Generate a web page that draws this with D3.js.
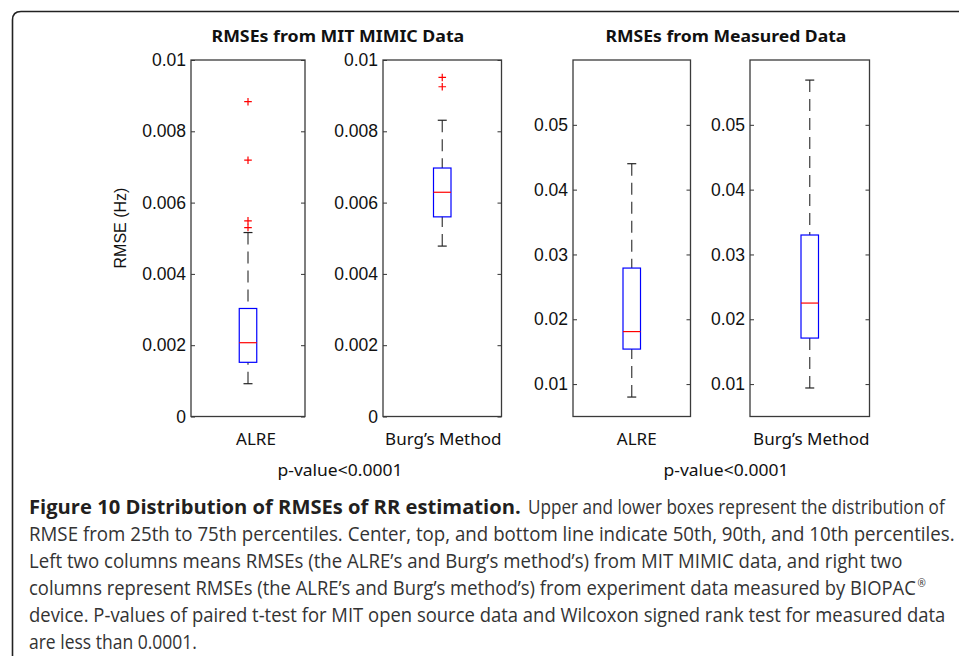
<!DOCTYPE html>
<html>
<head>
<meta charset="utf-8">
<script src="https://cdn.jsdelivr.net/npm/d3@7"></script>
<style>
  html, body { margin: 0; padding: 0; background: #fff; }
  svg { display: block; }
</style>
</head>
<body>
<script>
// ---------------- DATA ----------------
const categories = ["ALRE", "Burg\u2019s Method"];
const groupTitles = ["RMSEs from MIT MIMIC Data", "RMSEs from Measured Data"];
const pValueLabels = ["p-value<0.0001", "p-value<0.0001"];
const yAxisLabel = "RMSE (Hz)";

// MIMIC data (Hz)
const mimicDomain = [0, 0.01];
const mimicTicks = [0, 0.002, 0.004, 0.006, 0.008, 0.01];
const mimicTickLabels = ["0", "0.002", "0.004", "0.006", "0.008", "0.01"];
const mimicP10 = [0.00092, 0.00478];
const mimicQ1 = [0.00152, 0.00560];
const mimicMedian = [0.00207, 0.00629];
const mimicQ3 = [0.00303, 0.00697];
const mimicP90 = [0.00516, 0.00831];
const mimicOutliers = [[0.00883, 0.00719, 0.00549, 0.00530], [0.00951, 0.00925]];

// Measured data (Hz)
const measuredDomain = [0.005, 0.06];
const measuredTicks = [0.01, 0.02, 0.03, 0.04, 0.05];
const measuredTickLabels = ["0.01", "0.02", "0.03", "0.04", "0.05"];
const measuredP10 = [0.0080, 0.0094];
const measuredQ1 = [0.0154, 0.0171];
const measuredMedian = [0.0181, 0.0225];
const measuredQ3 = [0.0279, 0.0330];
const measuredP90 = [0.0440, 0.0569];
const measuredOutliers = [[], []];

const captionBold = "Figure 10 Distribution of RMSEs of RR estimation.";
const captionLines = [
  "Upper and lower boxes represent the distribution of",
  "RMSE from 25th to 75th percentiles. Center, top, and bottom line indicate 50th, 90th, and 10th percentiles.",
  "Left two columns means RMSEs (the ALRE\u2019s and Burg\u2019s method\u2019s) from MIT MIMIC data, and right two",
  "columns represent RMSEs (the ALRE\u2019s and Burg\u2019s method\u2019s) from experiment data measured by BIOPAC",
  "device. P-values of paired t-test for MIT open source data and Wilcoxon signed rank test for measured data",
  "are less than 0.0001."
];

// ---------------- LAYOUT ----------------
const W = 959, H = 656;
const plotTop = 60, plotBottom = 416.5;
const panelX = [[191, 305], [383, 501.5], [573, 690.5], [750, 869.5]];
const labelDx = [8, 1, 5, 1.5];
const boxW = 17.5;

const svg = d3.select("body").append("svg").attr("width", W).attr("height", H);

// place a text so that it spans exactly [xStart, xStart+len] by horizontal scaling
function fitText(sel, xStart, yBase, len, anchor) {
  const natural = sel.node().getComputedTextLength();
  const sx = Math.min(1.3, len / natural);
  const x = anchor === "middle" ? xStart - len / 2 : xStart;
  sel.attr("x", 0).attr("y", 0).attr("text-anchor", "start")
    .attr("transform", `translate(${x},${yBase}) scale(${sx},1)`);
  return sel;
}

// outer frame (top + left, rounded corner)
svg.append("path")
  .attr("d", `M12.5,${H + 5} L12.5,20 Q12.5,11.5 21,11.5 L${W + 5},11.5`)
  .attr("fill", "none").attr("stroke", "#222").attr("stroke-width", 1.6);

const groups = [
  { domain: mimicDomain, ticks: mimicTicks, labels: mimicTickLabels, p10: mimicP10, q1: mimicQ1, med: mimicMedian, q3: mimicQ3, p90: mimicP90, out: mimicOutliers },
  { domain: measuredDomain, ticks: measuredTicks, labels: measuredTickLabels, p10: measuredP10, q1: measuredQ1, med: measuredMedian, q3: measuredQ3, p90: measuredP90, out: measuredOutliers }
];

const tickFont = "'Liberation Sans', Arial, sans-serif";
const labelFont = "'Noto Sans', 'Open Sans', sans-serif";

groups.forEach((g, gi) => {
  categories.forEach((cat, ci) => {
    const pi = gi * 2 + ci;
    const [x0, x1] = panelX[pi];
    const y = d3.scaleLinear().domain(g.domain).range([plotBottom, plotTop]);
    const x = d3.scalePoint().domain([cat]).range([x0, x1]).padding(0.5);
    const cx = x(cat);
    const p = svg.append("g");

    // left axis with labels
    const la = p.append("g").attr("transform", `translate(${x0},0)`)
      .call(d3.axisLeft(y).tickValues(g.ticks).tickFormat((d, i) => g.labels[i])
        .tickSizeInner(-4).tickSizeOuter(0).tickPadding(5));
    la.select(".domain").remove();
    la.selectAll("text").attr("font-family", tickFont).attr("font-size", 17.5).attr("fill", "#111");
    la.selectAll("line").attr("stroke", "#333");

    const ra = p.append("g").attr("transform", `translate(${x1},0)`)
      .call(d3.axisRight(y).tickValues(g.ticks).tickFormat("").tickSizeInner(-4).tickSizeOuter(0));
    ra.select(".domain").remove();
    ra.selectAll("line").attr("stroke", "#333");

    // frame
    p.append("rect").attr("x", x0).attr("y", plotTop).attr("width", x1 - x0).attr("height", plotBottom - plotTop)
      .attr("fill", "none").attr("stroke", "#3a3a3a").attr("stroke-width", 1.3);

    // whiskers
    p.append("line").attr("x1", cx).attr("x2", cx).attr("y1", y(g.p90[ci])).attr("y2", y(g.q3[ci]))
      .attr("stroke", "#3a3a3a").attr("stroke-width", 1.2).attr("stroke-dasharray", "12,7");
    p.append("line").attr("x1", cx).attr("x2", cx).attr("y1", y(g.p10[ci])).attr("y2", y(g.q1[ci]))
      .attr("stroke", "#3a3a3a").attr("stroke-width", 1.2).attr("stroke-dasharray", "12,7");
    [g.p90[ci], g.p10[ci]].forEach(v => {
      p.append("line").attr("x1", cx - 4.5).attr("x2", cx + 4.5).attr("y1", y(v)).attr("y2", y(v))
        .attr("stroke", "#222").attr("stroke-width", 1.2);
    });

    // box
    p.append("rect").attr("x", cx - boxW / 2).attr("y", y(g.q3[ci]))
      .attr("width", boxW).attr("height", y(g.q1[ci]) - y(g.q3[ci]))
      .attr("fill", "none").attr("stroke", "#0000ff").attr("stroke-width", 1.2);
    p.append("line").attr("x1", cx - boxW / 2).attr("x2", cx + boxW / 2)
      .attr("y1", y(g.med[ci])).attr("y2", y(g.med[ci]))
      .attr("stroke", "#ff0000").attr("stroke-width", 1.2);

    // outliers
    g.out[ci].forEach(v => {
      const yy = y(v);
      p.append("path").attr("d", `M${cx - 3.8},${yy}H${cx + 3.8}M${cx},${yy - 3.8}V${yy + 3.8}`)
        .attr("stroke", "#ff0000").attr("stroke-width", 1.2).attr("fill", "none");
    });

    // category label
    p.append("text").attr("x", (x0 + x1) / 2 + labelDx[pi]).attr("y", 445)
      .attr("text-anchor", "middle").attr("font-family", labelFont).attr("font-size", 17)
      .attr("fill", "#111").text(cat);
  });
});

// group titles
const titleX = [338, 726], titleLen = [253, 241];
groupTitles.forEach((t, i) => {
  const s = svg.append("text")
    .attr("font-family", labelFont).attr("font-weight", "bold").attr("font-size", 16.5)
    .attr("fill", "#111").text(t);
  fitText(s, titleX[i], 41.5, titleLen[i], "middle");
});

// p-values
const pX = [340, 726];
pValueLabels.forEach((t, i) => {
  const s = svg.append("text")
    .attr("font-family", labelFont).attr("font-size", 17)
    .attr("fill", "#111").text(t);
  fitText(s, pX[i], 476, 125, "middle");
});

// y-axis label
svg.append("text").attr("transform", "translate(126,228) rotate(-90)")
  .attr("text-anchor", "middle").attr("font-family", tickFont).attr("font-size", 16)
  .attr("fill", "#111").text(yAxisLabel);

// caption
const capFont = "'Open Sans', 'Noto Sans', sans-serif";
const capX = 29;
const capBase = [514, 541, 568, 595, 622, 649];
const capEnd = [945, 955, 903, 916, 946, 197];
const b = svg.append("text")
  .attr("font-family", capFont).attr("font-weight", "bold").attr("font-size", 20)
  .attr("fill", "#231f20").text(captionBold);
fitText(b, capX, capBase[0], 521 - capX, "start");
captionLines.forEach((t, i) => {
  const sx = i === 0 ? 528 : capX;
  const s = svg.append("text")
    .attr("font-family", capFont).attr("font-size", 20)
    .attr("fill", "#333").text(t);
  fitText(s, sx, capBase[i], capEnd[i] - sx, "start");
});
svg.append("text").attr("x", 917.5).attr("y", capBase[3] - 8)
  .attr("font-family", capFont).attr("font-size", 10).attr("fill", "#333").text("\u00ae");
</script>
</body>
</html>
